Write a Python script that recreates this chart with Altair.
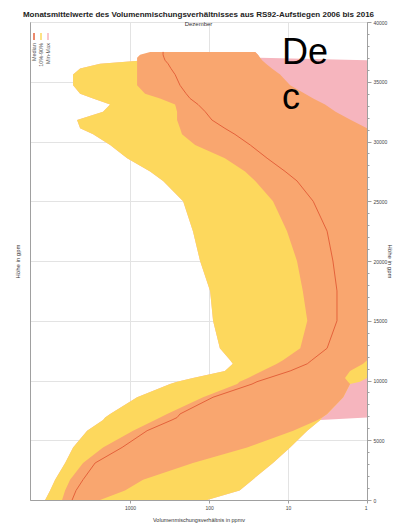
import altair as alt
import pandas as pd

# Altitude levels (gpm)
altitude = [37500, 37250, 37000, 36800, 36500, 36100, 35600, 34700, 34000, 33600,
            33100, 32500, 31800, 31100, 30600, 29700, 28600, 27500, 26700, 25000,
            22500, 20000, 17500, 15000, 12700, 11700, 11400, 10800, 10200, 9900,
            9700, 8600, 7200, 6900, 6700, 5800, 4400, 3100, 1700, 800, 0]
# outer band (yellow) left / right edge, ppmv
yellow_hi = [483, 558, 558, 646, 2400, 4290, 5270, 5270, 4290, 2940,
             1790, 2200, 4690, 4290, 2940, 1790, 1090, 558, 382, 213,
             160, 130, 97, 89, 73, 54, 50, 63, 160, 254,
             312, 815, 1790, 2070, 2200, 3500, 5270, 6650, 8900, 10300, 11900]
yellow_lo = [361, 361, 312, 312, 330, 303, 269, 233, 195, 174,
             138, 112, 92, 63, 47, 30, 18.4, 10.9, 7.7, 4.8,
             3.2, 2.7, 2.4, 2.4, 3.2, 1, 1, 1, 1, 1.23,
             1.64, 2.0, 3.2, 3.7, 3.9, 5.7, 9.4, 15.5, 28, 41, 106]
# inner band (orange)
orange_hi = [558, 747, 815, 815, 815, 815, 815, 815, 646, 417,
             269, 254, 254, 233, 220, 150, 63, 35, 26, 15.5,
             10.3, 7.7, 6.5, 5.7, 7.0, 11.6, 13.8, 21.3, 32, 41,
             44, 119, 340, 417, 483, 916, 2200, 3940, 5750, 6650, 7260]
orange_lo = [26, 24, 22.6, 21.3, 19, 16, 12.6, 9.4, 6.1, 4.8,
             3.4, 2.5, 1.6, 1, 1, 1, 1, 1, 1, 1,
             1, 1, 1, 1, 1, 1, 1.12, 1.64, 1.9, 1.74,
             1.64, 2.0, 3.2, 3.7, 4.2, 8.6, 33, 160, 685, 1160, 2400]
# lowest values (pink)
pink_lo = [26, 24, 22.6, 1, 1, 1, 1, 1, 1, 1,
           1, 1, 1, 1, 1, 1, 1, 1, 1, 1,
           1, 1, 1, 1, 1, 1, 1, 1, 1, 1,
           1, 1, 1, 1, 3.9, 5.7, 9.4, 15.5, 28, 41, 106]
median = [382, 382, 371, 361, 330, 303, 269, 233, 195, 174,
          138, 112, 92, 63, 47, 30, 18.4, 10.9, 7.7, 4.8,
          3.2, 2.7, 2.4, 2.4, 3.2, 5.0, 5.7, 9.4, 17.9, 24.7,
          28.6, 89, 233, 254, 294, 609, 1260, 2770, 3940, 4830, 5420]

x_ticks = [1, 10, 100, 1000]
legend_labels = ["Median", "10%-90%", "Min-Max"]
legend_colors = ["#E4623B", "#FDD85D", "#F6B5BE"]

df = pd.DataFrame({
    "alt": altitude, "yhi": yellow_hi, "ylo": yellow_lo,
    "ohi": orange_hi, "olo": orange_lo, "plo": pink_lo, "med": median,
})

PINK = "#F6B5BE"
YELLOW = "#FDD85D"
ORANGE = "#F9A66F"
LINE = "#E4623B"
FONT = "Liberation Sans"
GRID = "#e3e3e3"
AX = "#a0a0a0"

xscale = alt.Scale(type="log", domain=[1, 18500], reverse=True)
yscale = alt.Scale(domain=[0, 40000], nice=False)

x_axis = alt.Axis(
    values=x_ticks, format="d", grid=True, gridColor=GRID,
    domainColor=AX, tickColor=AX, tickSize=3, labelFontSize=5, labelFont=FONT,
    labelColor="#444", labelPadding=2, title="Volumenmischungsverhältnis in ppmv",
    titleFontSize=5.5, titleFont=FONT, titleFontWeight="normal", titlePadding=7,
    titleColor="#333")

base = alt.Chart(df)

pink = base.mark_area(orient="horizontal", color=PINK, clip=True).encode(
    y=alt.Y("alt:Q", scale=yscale, axis=alt.Axis(
        orient="left", title="Höhe in gpm", labels=False, ticks=False,
        values=list(range(0, 40001, 5000)), grid=True, gridColor=GRID,
        domainColor=AX, titleFontSize=6, titleFont=FONT, titleFontWeight="normal",
        titlePadding=10, titleColor="#333")),
    x=alt.X("plo:Q", scale=xscale, axis=x_axis),
    x2="yhi:Q",
)

yellow = base.mark_area(orient="horizontal", color=YELLOW, clip=True).encode(
    y=alt.Y("alt:Q", scale=yscale, axis=alt.Axis(
        orient="right", title="Höhe in gpm", values=list(range(0, 40001, 5000)),
        format="d", grid=False, domainColor=AX, tickColor=AX, tickSize=4,
        labelFontSize=5, labelFont=FONT, labelColor="#444", labelPadding=2,
        titleFontSize=6, titleFont=FONT, titleFontWeight="normal", titlePadding=0,
        titleColor="#333")),
    x=alt.X("yhi:Q", scale=xscale, axis=x_axis),
    x2="ylo:Q",
)

orange = base.mark_area(orient="horizontal", color=ORANGE, clip=True).encode(
    y=alt.Y("alt:Q", scale=yscale, axis=alt.Axis(
        orient="right", title=None, values=list(range(0, 40001, 1000)),
        labels=False, grid=False, domain=False, tickColor=AX, tickSize=2)),
    x=alt.X("ohi:Q", scale=xscale, axis=x_axis),
    x2="olo:Q",
)

line = base.mark_line(color=LINE, strokeWidth=1, clip=True).encode(
    y=alt.Y("alt:Q", scale=yscale, axis=None),
    x=alt.X("med:Q", scale=xscale, axis=x_axis),
    order="alt:Q",
)

big = alt.Chart(pd.DataFrame({"t": [["De", "c"]]})).mark_text(
    align="left", baseline="alphabetic", fontSize=36, font=FONT,
    lineHeight=45, color="black",
).encode(text="t", x=alt.value(252), y=alt.value(42))

legend_layers = []
for i, (lab, col) in enumerate(zip(legend_labels, legend_colors)):
    legend_layers.append(
        alt.Chart(pd.DataFrame({"t": [lab]})).mark_text(
            angle=270, align="right", baseline="middle", fontSize=5.5, font=FONT,
            color="#555").encode(text="t", x=alt.value(4 + 7 * i), y=alt.value(21))
    )
    legend_layers.append(
        alt.Chart(pd.DataFrame({"c": [col]})).mark_rule(color=col, strokeWidth=1.5).encode(
            x=alt.value(4 + 7 * i), y=alt.value(11), y2=alt.value(18))
    )

chart = alt.layer(pink, yellow, orange, line, big, *legend_layers).resolve_axis(
    y="independent"
).properties(
    width=337, height=478,
    title=alt.TitleParams(
        text="Monatsmittelwerte des Volumenmischungsverhältnisses aus RS92-Aufstiegen 2006 bis 2016",
        subtitle="Dezember", fontSize=8, font=FONT, fontWeight="bold", color="#222",
        subtitleFontSize=6, subtitleFont=FONT, subtitleColor="#333",
        subtitlePadding=2, anchor="middle", offset=-7,
    ),
    autosize=alt.AutoSizeParams(type="none"),
    padding={"left": 30, "top": 22, "right": 28, "bottom": 23},
).configure_view(stroke=AX, strokeWidth=1)

chart.save("out.html", embed_options={"renderer": "svg", "actions": False})
